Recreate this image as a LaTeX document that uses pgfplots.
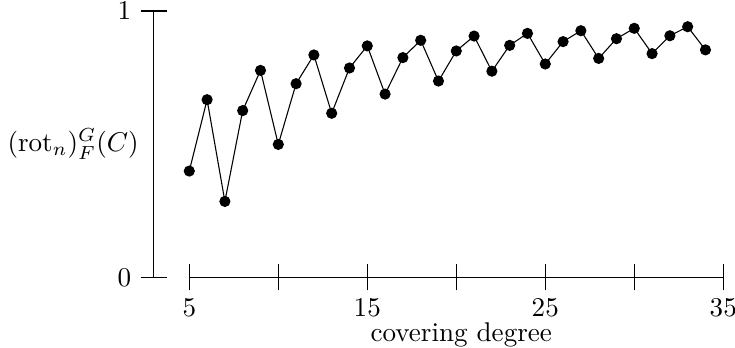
\documentclass[border=0pt]{standalone}
\usepackage{pgfplots}
\pgfplotsset{compat=1.18}
\begin{document}
\begin{tikzpicture}
\begin{axis}[
  x=6.57pt, y=98.3pt,
  xmin=3, xmax=35, ymin=0, ymax=1,
  axis x line=bottom, axis y line=left,
  x axis line style={-, shorten <=13.14pt},
  y axis line style={-},
  xtick={5,10,...,35}, xticklabels={5,,15,,25,,35},
  ytick={0,1},
  tick align=center,
  major tick length=9.6pt,
  tick style={black, line width=0.4pt},
  xticklabel style={yshift=0.4pt},
  xlabel={covering degree},
  ylabel={$(\mathrm{rot}_n)^G_F(C)$},
  every axis x label/.style={at={(axis description cs:0.54,0)}, anchor=north, yshift=-13.1pt},
  every axis y label/.style={at={(axis description cs:0,0.5)}, anchor=east, xshift=-2pt},
  clip=false,
]
\addplot[black, mark=*, mark size=1.85pt, line width=0.4pt] coordinates {
(5,0.399) (6,0.667) (7,0.285) (8,0.626) (9,0.777) (10,0.499)
(11,0.727) (12,0.835) (13,0.616) (14,0.786) (15,0.869) (16,0.688)
(17,0.825) (18,0.890) (19,0.737) (20,0.850) (21,0.906) (22,0.774)
(23,0.871) (24,0.916) (25,0.801) (26,0.885) (27,0.926) (28,0.822)
(29,0.896) (30,0.935) (31,0.840) (32,0.907) (33,0.941) (34,0.854)
};
\coordinate (bbll) at (axis cs:-5.635,-0.2617);
\coordinate (bbur) at (axis cs:35.66,1.0413);
\end{axis}
\pgfresetboundingbox
\path (bbll) rectangle (bbur);
\end{tikzpicture}
\end{document}
